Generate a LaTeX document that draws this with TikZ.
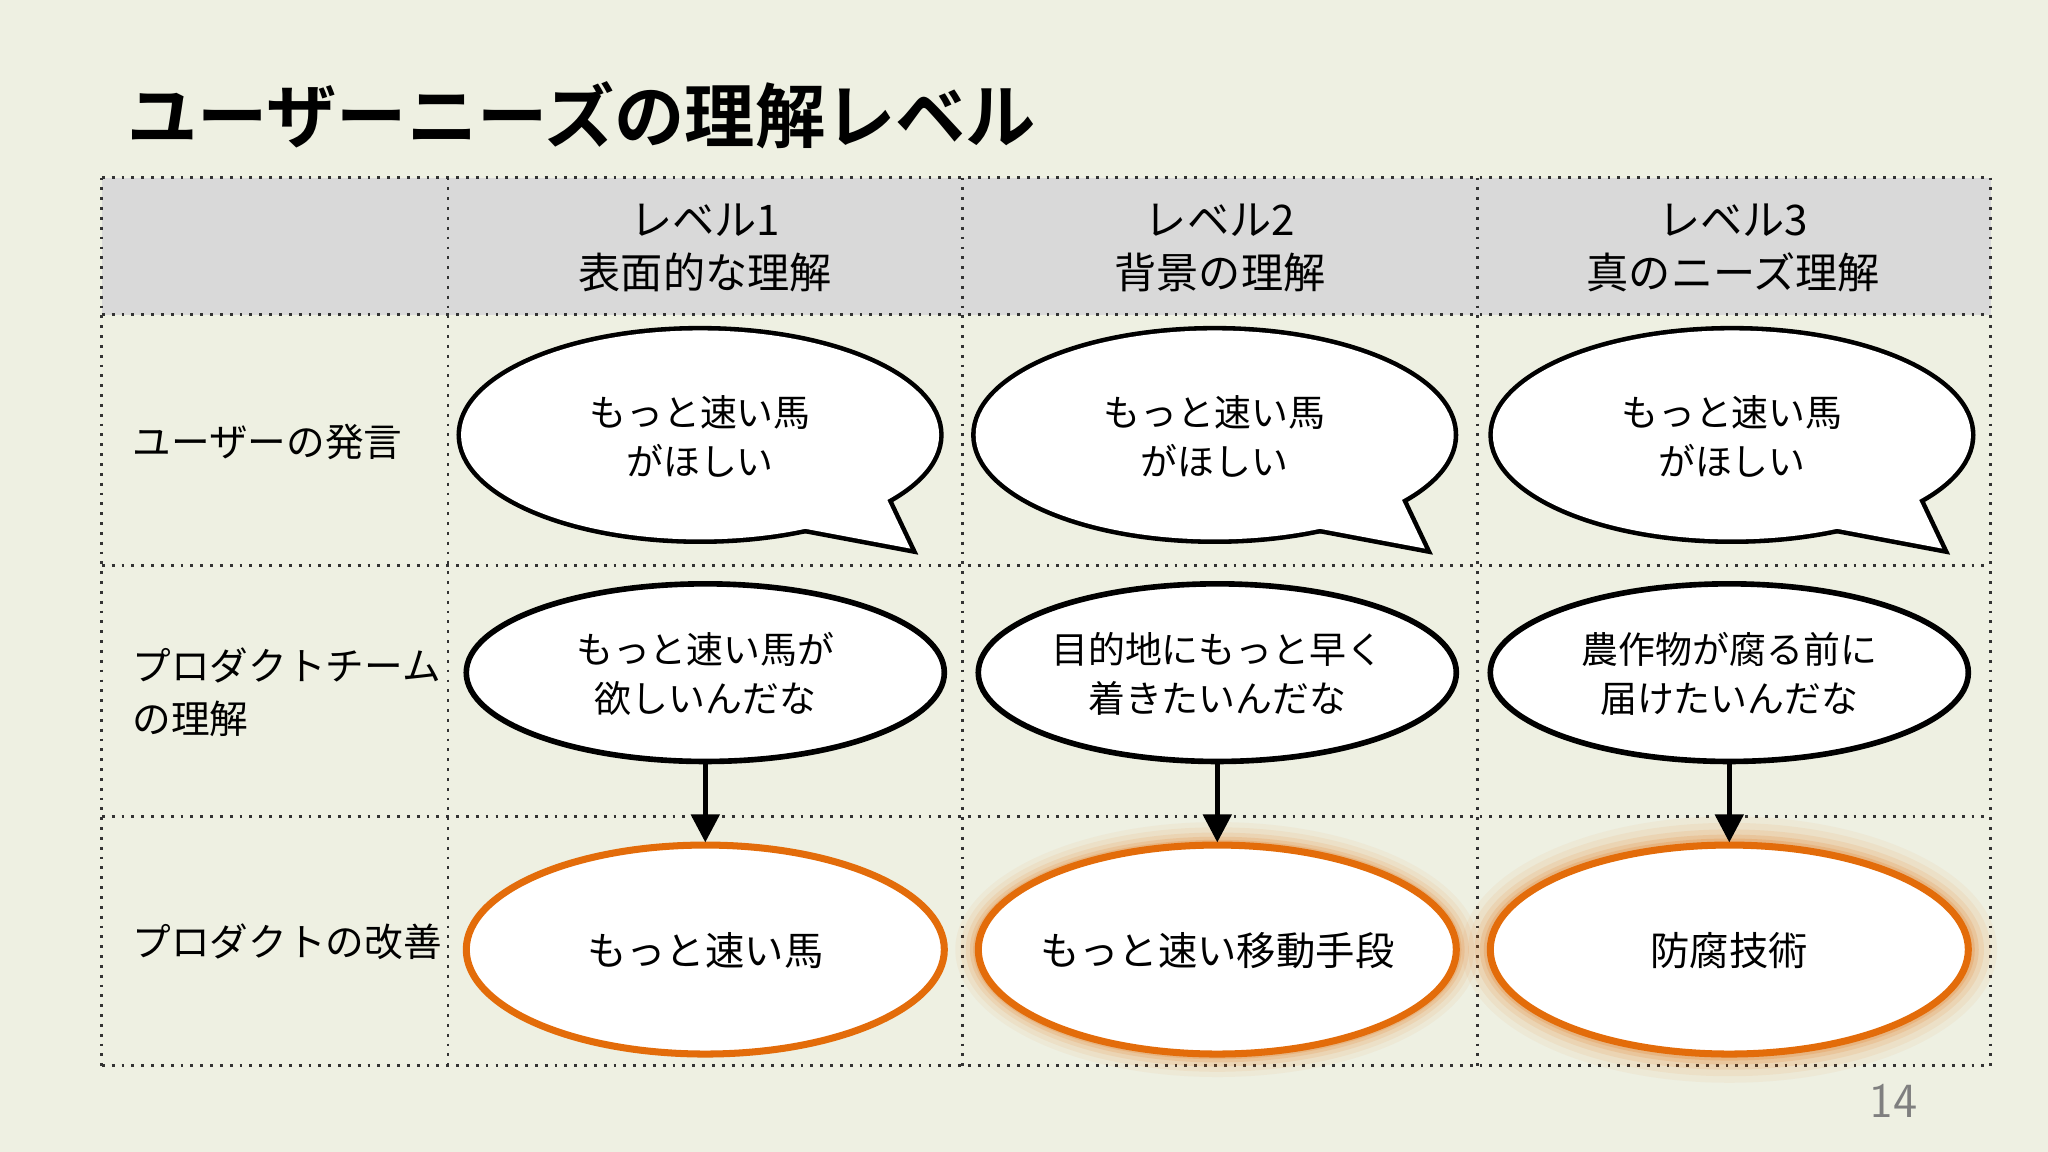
\documentclass[tikz,border=0pt]{standalone}
\usepackage{fontspec}
\newfontfamily\cjk{Noto Sans CJK JP}
\newfontfamily\cjkb{Noto Sans CJK JP Bold}
\definecolor{bg}{HTML}{EEF0E2}
\definecolor{hd}{HTML}{D9D9D9}
\definecolor{org}{HTML}{E36C0A}
\definecolor{pg}{HTML}{7F7F7F}
\tikzset{
  grid/.style={draw=black!80, dotted, line width=0.8pt},
  txt/.style={font=\cjk\fontsize{10.5pt}{14pt}\selectfont, align=center},
  hdtxt/.style={font=\cjk\fontsize{12pt}{15pt}\selectfont, align=center},
  lbl/.style={font=\cjk\fontsize{11pt}{15pt}\selectfont, align=left, anchor=west},
  arr/.style={-{Triangle[length=8pt,width=8pt]}, line width=1.4pt}
}
\usetikzlibrary{arrows.meta}
\begin{document}
\begin{tikzpicture}[x=0.01306cm,y=-0.01306cm]
\fill[bg] (0,0) rectangle (1568,882);
\useasboundingbox (0,0) rectangle (1568,882);
\node[anchor=west, font=\cjkb\fontsize{20pt}{24pt}\selectfont] (title) at (88,88) {ユーザーニーズの理解レベル};
% table
\fill[hd] (78,136) rectangle (1524,241);
\foreach \x in {78,343,737,1131,1524} \draw[grid] (\x,136) -- (\x,816);
\foreach \y in {136,241,433,625,816} \draw[grid] (78,\y) -- (1524,\y);
% headers
\node[hdtxt] (h1) at (540,190) {レベル1\\表面的な理解};
\node[hdtxt] (h2) at (934,190) {レベル2\\背景の理解};
\node[hdtxt] (h3) at (1327,190) {レベル3\\真のニーズ理解};
\node[lbl] (r1) at (92,338) {ユーザーの発言};
\node[lbl] (r2) at (92,530) {プロダクトチーム\\の理解};
\node[lbl] (r3) at (92,721) {プロダクトの改善};
% bubbles
\foreach \cx/\nm in {536/b1,930/b2,1326/b3}{
  \begin{scope}[shift={(\cx-536,0)}]
  \draw[line width=2.6pt] (536,333) ellipse [x radius=183, y radius=80];
  \draw[line width=2.6pt, line join=miter] (612,404) -- (697,420) -- (678,380);
  \fill[white] (536,333) ellipse [x radius=183, y radius=80];
  \fill[white] (612,404) -- (697,420) -- (678,380) -- cycle;
  \end{scope}
  \node[txt] (\nm) at (\cx,334) {もっと速い馬\\がほしい};
}
% row 2
\foreach \cx/\nm/\t in {540/u1/{もっと速い馬が\\欲しいんだな},932/u2/{目的地にもっと早く\\着きたいんだな},1324/u3/{農作物が腐る前に\\届けたいんだな}}{
  \draw[fill=white, line width=1.6pt] (\cx,515) ellipse [x radius=183, y radius=68];
  \node[txt] (\nm) at (\cx,516) {\t};
}
% glow
\foreach \r/\o in {22/0.05,17/0.07,12/0.1,8/0.14,5/0.18}{
  \fill[org, opacity=\o] (932,727) ellipse [x radius=183+\r*0.8, y radius=80+\r*0.8];
  \fill[org, opacity=\o] (1324,727) ellipse [x radius=183+\r, y radius=80+\r];
}
\foreach \cx/\nm/\t in {540/p1/{もっと速い馬},932/p2/{もっと速い移動手段},1324/p3/{防腐技術}}{
  \draw[fill=white, draw=org, line width=2pt] (\cx,727) ellipse [x radius=183, y radius=80];
  \node[txt, font=\cjk\fontsize{11.2pt}{14pt}\selectfont] (\nm) at (\cx,728) {\t};
}
\coordinate (a1) at (540,583); \coordinate (c1) at (540,645);
\coordinate (a2) at (932,583); \coordinate (c2) at (932,645);
\coordinate (a3) at (1324,583); \coordinate (c3) at (1324,645);
\draw[arr] (a1) -- (c1);
\draw[arr] (a2) -- (c2);
\draw[arr] (a3) -- (c3);
\node[font=\fontsize{14pt}{16pt}\selectfont\sffamily, text=pg] (pn) at (1450,843) {14};
\end{tikzpicture}
\end{document}
